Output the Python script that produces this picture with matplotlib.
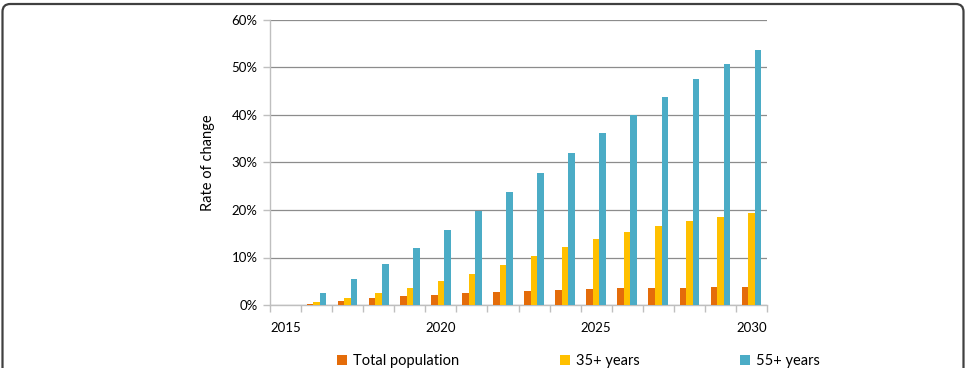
import matplotlib.pyplot as plt
import numpy as np
from matplotlib.patches import FancyBboxPatch
from matplotlib.ticker import FuncFormatter, MultipleLocator

years = list(range(2015, 2031))
total_pop = [0.0, 0.3, 0.9, 1.4, 1.9, 2.2, 2.5, 2.8, 3.0, 3.2, 3.4, 3.5, 3.6, 3.6, 3.7, 3.7]
age_35 = [0.0, 0.6, 1.4, 2.5, 3.6, 5.0, 6.6, 8.4, 10.3, 12.2, 14.0, 15.4, 16.6, 17.6, 18.5, 19.3]
age_55 = [0.0, 2.5, 5.5, 8.7, 12.1, 15.8, 19.7, 23.7, 27.8, 32.0, 36.2, 40.0, 43.8, 47.5, 50.8, 53.6]

labels = ['Total population', '35+ years', '55+ years']
colors = ['#E46C0A', '#FFC000', '#4BACC6']

plt.rcParams['font.family'] = ['Lato', 'DejaVu Sans']

fig = plt.figure(figsize=(9.69, 3.68), dpi=100)
ax = fig.add_axes([270 / 969, 1 - 305 / 368, 497 / 969, 285 / 368])

x = np.arange(len(years))
w = 0.21
series = [total_pop, age_35, age_55]
for i, (vals, lab, col) in enumerate(zip(series, labels, colors)):
    ax.bar(x + (i - 1) * w, vals, width=w, color=col, label=lab, zorder=3)

ax.set_xlim(-0.5, len(years) - 0.5)
ax.set_ylim(0, 60)
ax.yaxis.set_major_locator(MultipleLocator(10))
ax.yaxis.set_major_formatter(FuncFormatter(lambda v, p: f'{v:.0f}%'))
ax.grid(axis='y', color='#8C8C8C', linewidth=0.9, zorder=0)

# category labels every 5 years, tick marks between categories
ax.set_xticks([i for i, y in enumerate(years) if y % 5 == 0])
ax.set_xticklabels([str(y) for y in years if y % 5 == 0])
ax.set_xticks(np.arange(len(years) + 1) - 0.5, minor=True)
ax.tick_params(axis='x', which='major', length=0, pad=12, labelsize=9.5, colors='black')
ax.tick_params(axis='x', which='minor', length=5, color='#BFBFBF', width=1)
ax.tick_params(axis='y', length=5, color='#BFBFBF', width=1, labelsize=9.5, pad=4)

for s in ['top', 'right']:
    ax.spines[s].set_visible(False)
ax.spines['left'].set_color('#BFBFBF')
ax.spines['bottom'].set_color('#BFBFBF')
ax.spines['left'].set_linewidth(1)
ax.spines['bottom'].set_linewidth(1)

ax.set_ylabel('Rate of change', fontsize=10.5, labelpad=12)

fig.legend(loc='lower center', bbox_to_anchor=(0.597, -0.035), ncol=3, frameon=False,
           fontsize=10.5, handlelength=0.7, handleheight=0.7, handletextpad=0.4,
           columnspacing=6.9)

frame = FancyBboxPatch((2.5 / 969, -0.2), 961 / 969, (366 + 0.2 * 368 - 2) / 368,
                       boxstyle='round,pad=0,rounding_size=0.008', transform=fig.transFigure,
                       facecolor='none', edgecolor='#404040', linewidth=1.6, mutation_aspect=969 / 368)
fig.patches.append(frame)

fig.savefig('out.png', dpi=100)
